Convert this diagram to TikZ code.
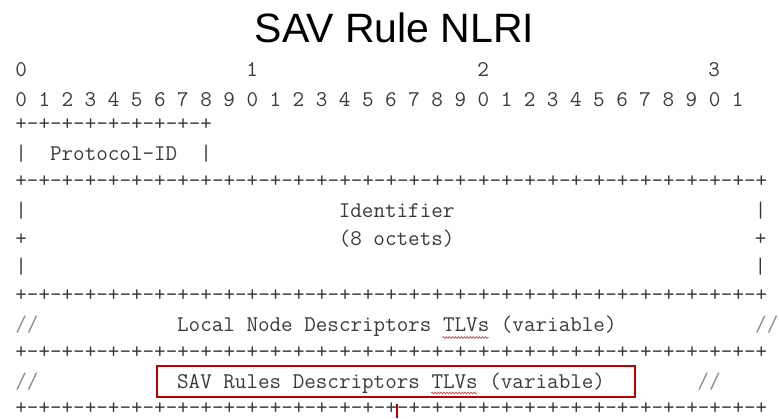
\documentclass[tikz,border=0pt]{standalone}
\usepackage{fontspec}
\usepackage{tikz}
\usetikzlibrary{decorations.pathmorphing}
\usepackage{xcolor}
\newfontfamily\titlefont{Liberation Sans}
\definecolor{asciigrey}{HTML}{3A3A3A}
\definecolor{slashgrey}{HTML}{8C8C8C}
\definecolor{markred}{HTML}{C00000}
\definecolor{spellred}{HTML}{D04848}
\newlength{\chw}
\setlength{\chw}{11.55pt}
\newcommand{\gap}[1]{\hspace*{#1\chw}}
\newcommand{\slashes}{\textcolor{slashgrey}{//}}
\newcommand{\border}{+-+-+-+-+-+-+-+-+-+-+-+-+-+-+-+-+-+-+-+-+-+-+-+-+-+-+-+-+-+-+-+-+}
\newcommand{\asciifont}{\ttfamily\fontsize{22.46}{26}\selectfont\spaceskip\chw\relax}
\tikzset{
  ascii/.style={anchor=base west, inner sep=0pt, text=asciigrey, font=\asciifont},
  headline/.style={font=\titlefont\fontsize{41}{48}\selectfont, text=black},
  hlbox/.style={draw=markred, line width=2.5pt, minimum width=478pt,
                minimum height=31pt, inner sep=0pt},
  hlline/.style={draw=markred, line width=2pt},
  spell/.style={draw=spellred, line width=0.7pt, decorate,
                decoration={snake, amplitude=0.9pt, segment length=3pt}},
}

\begin{document}
\begin{tikzpicture}[x=1pt, y=-1pt]
\useasboundingbox (0,0) rectangle (779,418);
\node[headline] (title) at (394.5,28) {SAV Rule NLRI};

% bit ruler
\node[ascii] (r0) at (15.2,76.5) {0\gap{19}1\gap{19}2\gap{19}3};
\node[ascii] (r1) at (15.2,106.5) {0 1 2 3 4 5 6 7 8 9 0 1 2 3 4 5 6 7 8 9 0 1 2 3 4 5 6 7 8 9 0 1};

% fields
\node[ascii] (r2) at (15.2,130.5) {+-+-+-+-+-+-+-+-+};
\node[ascii] (r3) at (15.2,160) {|\gap{2}Protocol-ID\gap{2}|};
\node[ascii] (r4) at (15.2,187.5) {\border};
\node[ascii] (r5) at (15.2,217) {|\gap{27}Identifier\gap{26}|};
\node[ascii] (r6) at (15.2,245.5) {+\gap{27}(8 octets)\gap{26}+};
\node[ascii] (r7) at (15.2,273) {|\gap{63}|};
\node[ascii] (r8) at (15.2,301.5) {\border};
\node[ascii] (r9) at (15.2,331) {\slashes\gap{12}Local Node Descriptors TLVs (variable)\gap{12}\slashes};
\node[ascii] (r10) at (15.2,358.5) {\border};
\node[ascii] (r11) at (15.2,388) {\slashes\gap{12}SAV Rules Descriptors TLVs (variable)\gap{8}\slashes};
\node[ascii] (r12) at (15.2,414) {\border};

% spell-check marks under TLVs
\draw[spell] (442.5,337.5) -- (488.5,337.5);
\draw[spell] (431,393) -- (477,393);

% highlight
\node[hlbox] (savbox) at (396,381.5) {};
\coordinate (tailtop) at (397,404);
\coordinate (tailend) at (397,418);
\draw[hlline] (tailtop) -- (tailend);
\end{tikzpicture}
\end{document}
